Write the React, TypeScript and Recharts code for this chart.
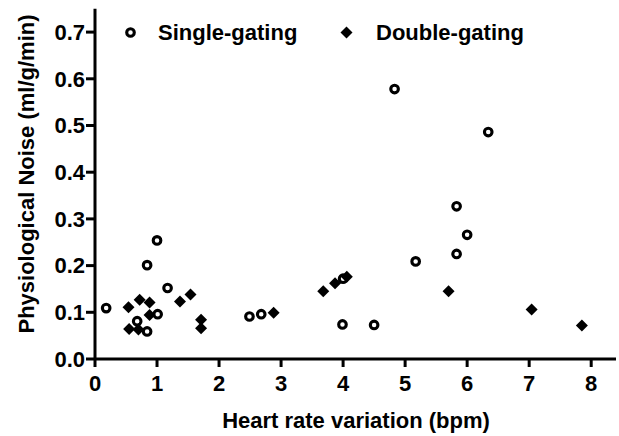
import React from 'react';
import { ScatterChart, Scatter, XAxis, YAxis, Legend } from 'recharts';

// Single-gating (open circles)
const singleX = [0.18, 0.68, 0.84, 0.84, 1.0, 1.01, 1.17, 2.49, 2.68, 3.99, 4.0, 4.5, 4.83, 5.17, 5.83, 5.83, 6.0, 6.34];
const singleY = [0.109, 0.081, 0.059, 0.201, 0.254, 0.096, 0.152, 0.091, 0.096, 0.074, 0.172, 0.073, 0.578, 0.209, 0.225, 0.327, 0.266, 0.486];

// Double-gating (filled diamonds)
const doubleX = [0.54, 0.55, 0.7, 0.72, 0.88, 0.88, 1.37, 1.54, 1.71, 1.71, 2.88, 3.68, 3.87, 4.06, 5.7, 7.04, 7.85];
const doubleY = [0.111, 0.064, 0.063, 0.127, 0.121, 0.094, 0.123, 0.138, 0.084, 0.066, 0.099, 0.145, 0.162, 0.176, 0.145, 0.106, 0.072];

const seriesNames = ['Single-gating', 'Double-gating'];
const xTicks = [0, 1, 2, 3, 4, 5, 6, 7, 8];
const yTicks = [0, 0.1, 0.2, 0.3, 0.4, 0.5, 0.6, 0.7];
const xTitle = 'Heart rate variation (bpm)';
const yTitle = 'Physiological Noise (ml/g/min)';

const single = singleX.map((x, i) => ({ x, y: singleY[i] }));
const double = doubleX.map((x, i) => ({ x, y: doubleY[i] }));

const FONT = '"Liberation Sans", Arial, sans-serif';

const CircleShape = (props: any) => {
  const { cx, cy } = props;
  if (cx == null || cy == null) return null;
  return <circle cx={cx} cy={cy} r={3.8} fill="#fff" stroke="#000" strokeWidth={3.1} />;
};

const DiamondShape = (props: any) => {
  const { cx, cy } = props;
  if (cx == null || cy == null) return null;
  const d = 6;
  return (
    <polygon
      points={`${cx},${cy - d} ${cx + d},${cy} ${cx},${cy + d} ${cx - d},${cy}`}
      fill="#000"
      stroke="none"
    />
  );
};

const LegendContent = () => (
  <svg width={619} height={50} style={{ display: 'block' }}>
    <circle cx={130.5} cy={32.5} r={3.8} fill="#fff" stroke="#000" strokeWidth={3.1} />
    <text x={158} y={40} fontFamily={FONT} fontWeight="bold" fontSize={22} fill="#000">
      {seriesNames[0]}
    </text>
    <polygon points="346.5,26.5 352.5,32.5 346.5,38.5 340.5,32.5" fill="#000" />
    <text x={376} y={40} fontFamily={FONT} fontWeight="bold" fontSize={22} fill="#000">
      {seriesNames[1]}
    </text>
  </svg>
);

export default function App() {
  return (
    <div style={{ position: 'absolute', left: 0, top: 0, background: '#fff' }}>
      <ScatterChart
        width={619}
        height={436}
        margin={{ top: 8.75, right: 3, left: 0, bottom: 0 }}
      >
        <XAxis
          type="number"
          dataKey="x"
          domain={[0, 8.4]}
          ticks={xTicks}
          allowDataOverflow
          height={77}
          axisLine={{ stroke: '#000', strokeWidth: 3 }}
          tickLine={{ stroke: '#000', strokeWidth: 3 }}
          tickSize={8}
          tickMargin={8}
          tick={{ fill: '#000', fontFamily: FONT, fontWeight: 'bold', fontSize: 22 }}
          label={{
            content: () => (
              <text x={356} y={428} textAnchor="middle" fontFamily={FONT} fontWeight="bold" fontSize={22} fill="#000">
                {xTitle}
              </text>
            ),
          }}
        />
        <YAxis
          type="number"
          dataKey="y"
          domain={[0, 0.75]}
          ticks={yTicks}
          allowDataOverflow
          width={95}
          axisLine={{ stroke: '#000', strokeWidth: 3 }}
          tickLine={{ stroke: '#000', strokeWidth: 3 }}
          tickSize={9}
          tickMargin={1}
          tickFormatter={(v: number) => v.toFixed(1)}
          tick={{ fill: '#000', fontFamily: FONT, fontWeight: 'bold', fontSize: 22 }}
          label={{
            content: () => (
              <text
                x={26}
                y={174}
                transform="rotate(-90 26 174)"
                textAnchor="middle"
                dominantBaseline="central"
                fontFamily={FONT}
                fontWeight="bold"
                fontSize={22}
                fill="#000"
              >
                {yTitle}
              </text>
            ),
          }}
        />
        <Legend
          layout="horizontal"
          verticalAlign="middle"
          align="center"
          wrapperStyle={{ left: 0, top: 0, width: 619 }}
          content={LegendContent}
        />
        <Scatter name={seriesNames[0]} data={single} shape={CircleShape} isAnimationActive={false} />
        <Scatter name={seriesNames[1]} data={double} shape={DiamondShape} isAnimationActive={false} />
      </ScatterChart>
    </div>
  );
}
